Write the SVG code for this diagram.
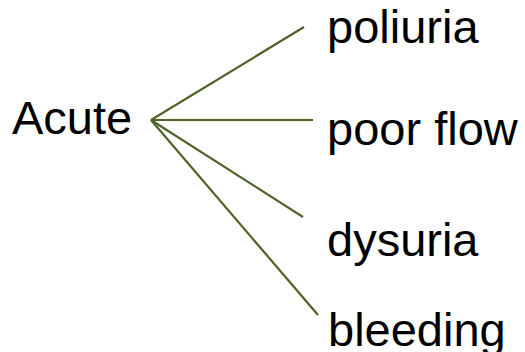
<svg xmlns="http://www.w3.org/2000/svg" width="525" height="352" viewBox="0 0 525 352">
<style>
text{font-family:"Liberation Sans",Arial,sans-serif;font-size:47px;fill:#000}
.c line{stroke:#4f6228;stroke-width:2.2;fill:none}
</style>
<rect width="525" height="352" fill="#fff"/>
<g id="acute"><text x="12" y="134">Acute</text></g>
<g id="poliuria"><text x="327" y="43">poliuria</text></g>
<g id="poorflow"><text x="327" y="145">poor flow</text></g>
<g id="dysuria"><text x="327" y="256">dysuria</text></g>
<g id="bleeding"><text x="328" y="346">bleeding</text></g>
<g class="c" id="connectors">
<line x1="151" y1="120" x2="304" y2="27"/>
<line x1="151" y1="120" x2="313" y2="120"/>
<line x1="151" y1="120" x2="303" y2="217"/>
<line x1="151" y1="120" x2="318" y2="315"/>
</g>
</svg>
